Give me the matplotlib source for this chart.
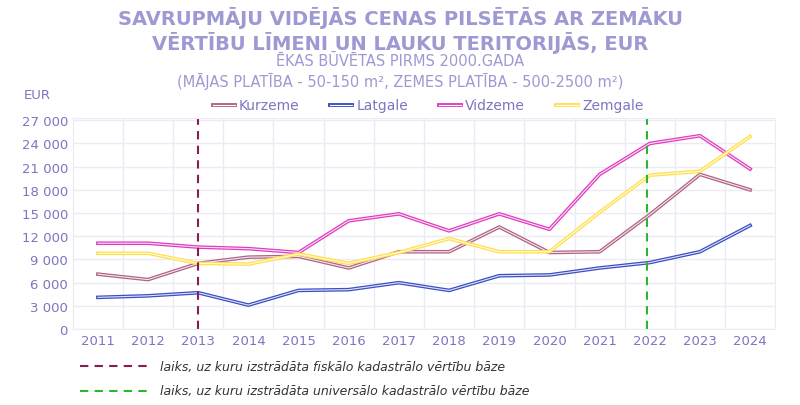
import matplotlib
matplotlib.use("Agg")
import matplotlib.pyplot as plt
from matplotlib.lines import Line2D

years = list(range(2011, 2025))
kurzeme = [7100, 6400, 8500, 9300, 9400, 7900, 10000, 10000, 13200, 9900, 10000, 14800, 20000, 18000]
latgale = [4100, 4300, 4700, 3100, 5000, 5100, 6000, 5000, 6900, 7000, 7900, 8600, 10000, 13400]
vidzeme = [11100, 11100, 10600, 10400, 9900, 14000, 14900, 12700, 14900, 12900, 20000, 24000, 25000, 20700]
zemgale = [9800, 9800, 8500, 8400, 9700, 8500, 9900, 11700, 10000, 10000, 15100, 19900, 20400, 24900]
series = [("Kurzeme", kurzeme, "#b06386"), ("Latgale", latgale, "#3a4fc4"),
          ("Vidzeme", vidzeme, "#e03cc0"), ("Zemgale", zemgale, "#ffe04a")]
yticks = list(range(0, 27001, 3000))
txt = "#7b76c0"

fig = plt.figure(figsize=(8, 4.06), dpi=100)
ax = fig.add_axes([0.091, 0.187, 0.878, 0.52])
for name, vals, c in series:
    ax.plot(years, vals, color=c, lw=2.6)
    ax.plot(years, vals, color="white", lw=0.8, alpha=0.85)
ax.axvline(2013, color="#8b1a5a", ls=(0, (4, 3)), lw=1.5)
ax.axvline(2021.95, color="#2db52d", ls=(0, (4, 3)), lw=1.5)
ax.set_xlim(2010.5, 2024.5)
ax.set_ylim(0, 27300)
ax.set_yticks(yticks)
ax.set_yticklabels([f"{v:,}".replace(",", " ") for v in yticks])
ax.set_xticks(years)
ax.set_xticks([y + 0.5 for y in years[:-1]], minor=True)
ax.grid(False)
ax.grid(True, which="minor", axis="x", color="#ebebf6", lw=1)
ax.grid(True, which="major", axis="y", color="#ebebf6", lw=1)
for s in ax.spines.values():
    s.set_color("#ebebf6")
ax.tick_params(length=0, colors=txt, labelsize=9.5)
ax.tick_params(which="minor", length=0)
fig.text(0.03, 0.755, "EUR", color=txt, fontsize=9.5)

leg_lines = []
for name, vals, c in series:
    leg_lines.append((Line2D([], [], color=c, lw=2.8), Line2D([], [], color="white", lw=0.8)))
fig.legend(leg_lines, [s[0] for s in series], loc="center", bbox_to_anchor=(0.535, 0.738),
           ncol=4, frameon=False, fontsize=10, labelcolor=txt, handlelength=1.6,
           columnspacing=2.2, handletextpad=0.3)

fig.text(0.5, 0.955, "SAVRUPMĀJU VIDĒJĀS CENAS PILSĒTĀS AR ZEMĀKU", ha="center", va="center",
         color="#9d99d3", fontsize=14, fontweight="bold")
fig.text(0.5, 0.895, "VĒRTĪBU LĪMENI UN LAUKU TERITORIJĀS, EUR", ha="center", va="center",
         color="#9d99d3", fontsize=14, fontweight="bold")
fig.text(0.5, 0.848, "ĒKAS BŪVĒTAS PIRMS 2000.GADA", ha="center", va="center", color="#9d99d3", fontsize=10.5)
fig.text(0.5, 0.800, "(MĀJAS PLATĪBA - 50-150 m², ZEMES PLATĪBA - 500-2500 m²)", ha="center", va="center",
         color="#9d99d3", fontsize=10.5)

fig.lines.append(Line2D([0.10, 0.185], [0.095, 0.095], transform=fig.transFigure, color="#8b1a5a", ls=(0, (4, 3)), lw=1.5))
fig.text(0.20, 0.095, "laiks, uz kuru izstrādāta fiskālo kadastrālo vērtību bāze", va="center",
         color="#333333", fontsize=9, style="italic")
fig.lines.append(Line2D([0.10, 0.185], [0.035, 0.035], transform=fig.transFigure, color="#2db52d", ls=(0, (4, 3)), lw=1.5))
fig.text(0.20, 0.035, "laiks, uz kuru izstrādāta universālo kadastrālo vērtību bāze", va="center",
         color="#333333", fontsize=9, style="italic")

fig.savefig("out.png", dpi=100)
